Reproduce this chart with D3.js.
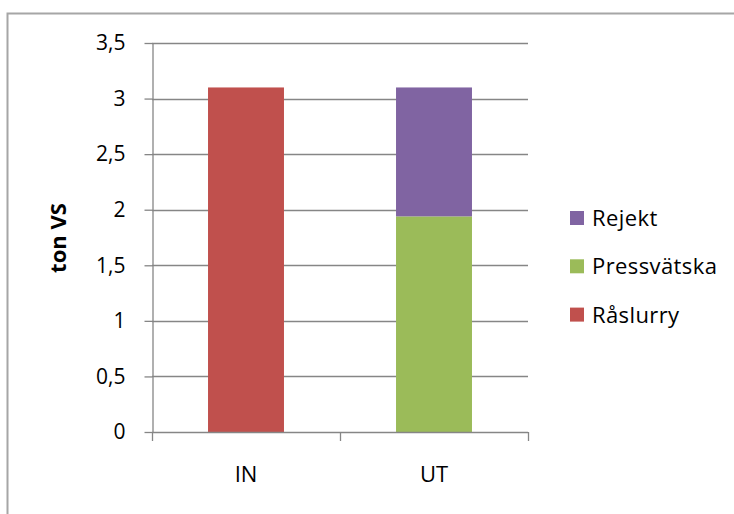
<!DOCTYPE html>
<html>
<head>
<meta charset="utf-8">
<script src="https://cdn.jsdelivr.net/npm/d3@7"></script>
<style>
  html, body { margin: 0; padding: 0; background: #fff; }
  svg { display: block; font-family: "Open Sans", "Liberation Sans", sans-serif; }
</style>
</head>
<body>
<svg id="chart" width="734" height="514"></svg>
<script>
// Volatile solids (ton VS) in and out of the process
const categories = ["IN", "UT"];
const seriesNames = ["Råslurry", "Pressvätska", "Rejekt"];
const raslurry = [3.1, 0];
const pressvatska = [0, 1.94];
const rejekt = [0, 1.16];
const seriesColors = ["#C0504D", "#9BBB59", "#8064A2"];
const yTicks = [0, 0.5, 1, 1.5, 2, 2.5, 3, 3.5];
const yTitle = "ton VS";

const rows = categories.map((c, i) => ({
  cat: c,
  "Råslurry": raslurry[i],
  "Pressvätska": pressvatska[i],
  "Rejekt": rejekt[i]
}));

const svg = d3.select("#chart");
const plot = { left: 152, right: 528, top: 43, bottom: 432 };

// outer chart frame (runs past the right and bottom edges)
svg.append("rect")
  .attr("x", 7.5).attr("y", 13.5)
  .attr("width", 760).attr("height", 560)
  .attr("fill", "#fff")
  .attr("stroke", "#a6a6a6")
  .attr("stroke-width", 2);

const x = d3.scaleBand()
  .domain(categories)
  .range([plot.left, plot.right])
  .paddingInner(0.596)
  .paddingOuter(0.298);

const y = d3.scaleLinear()
  .domain([0, 3.5])
  .range([plot.bottom, plot.top]);

const fmt = v => String(v).replace(".", ",");
const axisColor = "#868686";

// horizontal gridlines
svg.append("g")
  .selectAll("line")
  .data(yTicks.filter(t => t > 0))
  .join("line")
  .attr("x1", plot.left).attr("x2", plot.right)
  .attr("y1", d => Math.round(y(d)) + 0.5)
  .attr("y2", d => Math.round(y(d)) + 0.5)
  .attr("stroke", axisColor)
  .attr("stroke-width", 1.3);

// stacked bars
const stack = d3.stack().keys(seriesNames);
const layers = stack(rows);

svg.append("g")
  .selectAll("g")
  .data(layers)
  .join("g")
  .attr("fill", (d, i) => seriesColors[i])
  .selectAll("rect")
  .data(d => d.filter(p => p[1] - p[0] > 0))
  .join("rect")
  .attr("x", d => x(d.data.cat))
  .attr("width", x.bandwidth())
  .attr("y", d => y(d[1]))
  .attr("height", d => y(d[0]) - y(d[1]));

// y axis
const yAxis = d3.axisLeft(y)
  .tickValues(yTicks)
  .tickFormat(fmt)
  .tickSize(8)
  .tickSizeOuter(0)
  .tickPadding(19);

const gy = svg.append("g")
  .attr("transform", `translate(${plot.left + 0.5},0)`)
  .call(yAxis);
gy.select(".domain").attr("stroke", axisColor).attr("stroke-width", 1.3);
gy.selectAll(".tick line").attr("stroke", axisColor).attr("stroke-width", 1.3);
gy.selectAll(".tick text")
  .attr("font-size", 21)
  .attr("fill", "#000")
  .attr("font-family", "Open Sans, sans-serif");

// x axis: baseline plus ticks at category boundaries
const step = x.step();
const boundaries = categories.map(c => x(c) - step * x.paddingOuter()).concat([plot.right]);
const gx = svg.append("g");
gx.append("line")
  .attr("x1", plot.left).attr("x2", plot.right)
  .attr("y1", plot.bottom + 0.5).attr("y2", plot.bottom + 0.5)
  .attr("stroke", axisColor).attr("stroke-width", 1.3);
gx.selectAll("line.tk")
  .data(boundaries)
  .join("line")
  .attr("class", "tk")
  .attr("x1", d => Math.round(d) + 0.5).attr("x2", d => Math.round(d) + 0.5)
  .attr("y1", plot.bottom).attr("y2", plot.bottom + 9)
  .attr("stroke", axisColor).attr("stroke-width", 1.3);
gx.selectAll("text")
  .data(categories)
  .join("text")
  .attr("x", d => x(d) + x.bandwidth() / 2)
  .attr("y", 482)
  .attr("text-anchor", "middle")
  .attr("font-size", 22)
  .text(d => d);

// y axis title
svg.append("text")
  .attr("transform", "translate(66,238) rotate(-90)")
  .attr("text-anchor", "middle")
  .attr("font-size", 22)
  .attr("font-weight", "bold")
  .text(yTitle);

// legend (top entry is the top of the stack)
const legendItems = seriesNames.slice().reverse();
const legend = svg.append("g")
  .selectAll("g")
  .data(legendItems)
  .join("g")
  .attr("transform", (d, i) => `translate(570,${218 + i * 48.3})`);
legend.append("rect")
  .attr("x", 0).attr("y", -7)
  .attr("width", 14).attr("height", 14)
  .attr("fill", d => seriesColors[seriesNames.indexOf(d)]);
legend.append("text")
  .attr("x", 22).attr("y", 8)
  .attr("font-size", 22)
  .attr("letter-spacing", 0.4)
  .text(d => d);
</script>
</body>
</html>
